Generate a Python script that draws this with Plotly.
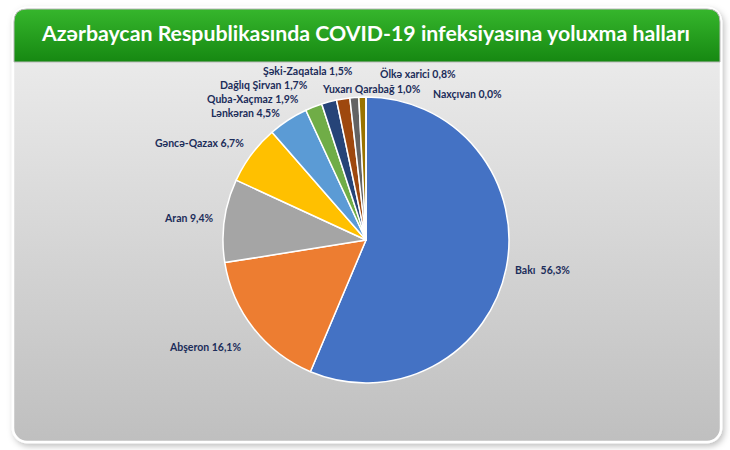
import base64
import plotly.graph_objects as go

# ---- data ----
regions = ["Bakı", "Abşeron", "Aran", "Gəncə-Qazax", "Lənkəran", "Quba-Xaçmaz",
           "Dağlıq Şirvan", "Şəki-Zaqatala", "Yuxarı Qarabağ", "Ölkə xarici", "Naxçıvan"]
shares = [56.3, 16.1, 9.4, 6.7, 4.5, 1.9, 1.7, 1.5, 1.0, 0.8, 0.0]
title_text = "Azərbaycan Respublikasında COVID-19 infeksiyasına yoluxma halları"

# ---- styles ----
colors = ["#4472C4", "#ED7D31", "#A5A5A5", "#FFC000", "#5B9BD5", "#70AD47",
          "#264478", "#9E480E", "#636363", "#997300", "#255E91"]
# label centres in pixels (layout only)
label_px = [(542, 270), (205, 347), (189, 218), (199, 143), (245, 113), (253, 99),
            (264, 85), (308, 71), (371, 89), (418, 73), (467, 94)]
W, H = 730, 450

svg = f'''<svg xmlns="http://www.w3.org/2000/svg" width="{W}" height="{H}" viewBox="0 0 {W} {H}">
<defs>
<linearGradient id="body" x1="0" y1="0" x2="0" y2="1">
<stop offset="0" stop-color="#f0f0f0"/><stop offset="1" stop-color="#bfbfbf"/></linearGradient>
<linearGradient id="green" x1="0" y1="0" x2="0" y2="1">
<stop offset="0" stop-color="#36b62c"/><stop offset="1" stop-color="#168812"/></linearGradient>
<filter id="sh" x="-5%" y="-5%" width="110%" height="115%">
<feDropShadow dx="2" dy="3" stdDeviation="3" flood-color="#000" flood-opacity="0.25"/></filter>
</defs>
<rect x="0" y="0" width="{W}" height="{H}" fill="#ffffff"/>
<rect x="13" y="8" width="708" height="434" rx="14" ry="14" fill="url(#body)" stroke="#ffffff" stroke-width="2.5" filter="url(#sh)"/>
<path d="M14,62 L14,22 Q14,9 27,9 L707,9 Q720,9 720,22 L720,62 Z" fill="url(#green)" stroke="#b8b8b8" stroke-width="1"/>
</svg>'''
bg_uri = "data:image/svg+xml;base64," + base64.b64encode(svg.encode("utf-8")).decode()

cx, cy, r = 366, 240, 143

fig = go.Figure(go.Pie(
    labels=regions,
    values=shares,
    sort=False,
    direction="clockwise",
    rotation=0,
    textinfo="none",
    hoverinfo="label+percent",
    marker=dict(colors=colors, line=dict(color="#ffffff", width=1.5)),
    domain=dict(x=[(cx - r) / W, (cx + r) / W], y=[(H - cy - r) / H, (H - cy + r) / H]),
    showlegend=False,
))

annotations = []
for name, val, (px, py) in zip(regions, shares, label_px):
    sep = "  " if name == "Bakı" else " "
    txt = f"{name}{sep}{val:.1f}%".replace(".", ",")
    annotations.append(dict(
        x=px / W, y=1 - py / H, xref="paper", yref="paper",
        text=f"<b>{txt}</b>", showarrow=False, xanchor="center", yanchor="middle",
        font=dict(family="Lato, Open Sans, sans-serif", size=10.5, color="#1C2D5A"),
    ))
annotations.append(dict(
    x=365 / W, y=1 - 33 / H, xref="paper", yref="paper",
    text=f"<b>{title_text}</b>", showarrow=False, xanchor="center", yanchor="middle",
    font=dict(family="Lato, Open Sans, sans-serif", size=21.3, color="#ffffff"),
))

fig.update_layout(
    width=W, height=H,
    margin=dict(l=0, r=0, t=0, b=0),
    paper_bgcolor="#ffffff",
    plot_bgcolor="rgba(0,0,0,0)",
    images=[dict(source=bg_uri, xref="paper", yref="paper", x=0, y=1, sizex=1, sizey=1,
                 sizing="stretch", xanchor="left", yanchor="top", layer="below")],
    annotations=annotations,
)

fig.write_html("out.html", config={"displayModeBar": False},
               post_script="document.body.style.margin='0px';")
